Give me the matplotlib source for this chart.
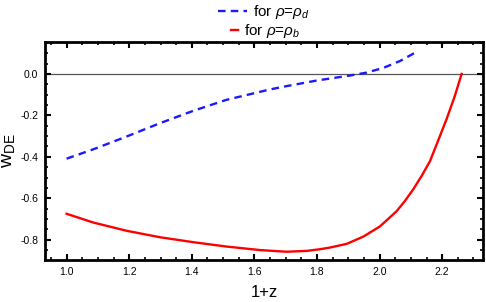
import numpy as np
import matplotlib
matplotlib.use("Agg")
import matplotlib.pyplot as plt
from matplotlib.ticker import MultipleLocator, FormatStrFormatter

plt.rcParams['font.family'] = ['Liberation Sans', 'DejaVu Sans']
plt.rcParams['mathtext.fontset'] = 'custom'
plt.rcParams['mathtext.rm'] = 'Liberation Sans'
plt.rcParams['mathtext.it'] = 'Liberation Sans:italic'
plt.rcParams['axes.unicode_minus'] = False

# blue dashed: rho = rho_d
x_d = [1.0, 1.085, 1.192, 1.298, 1.405, 1.511, 1.586, 1.647, 1.692, 1.799, 1.905, 1.958, 2.012, 2.065, 2.113]
w_d = [-0.409, -0.364, -0.302, -0.238, -0.178, -0.125, -0.098, -0.076, -0.062, -0.032, -0.008, 0.006, 0.029, 0.062, 0.102]

# red solid: rho = rho_b
x_b = [1.0, 1.085, 1.192, 1.298, 1.405, 1.511, 1.618, 1.703, 1.767, 1.809, 1.841, 1.895, 1.948, 2.001, 2.054, 2.080, 2.107, 2.134, 2.161, 2.187, 2.214, 2.240, 2.262]
w_b = [-0.675, -0.717, -0.757, -0.788, -0.812, -0.833, -0.850, -0.858, -0.854, -0.846, -0.838, -0.820, -0.785, -0.736, -0.663, -0.615, -0.558, -0.493, -0.421, -0.322, -0.218, -0.108, 0.0]

fig = plt.figure(figsize=(4.86, 3.02), dpi=100)
ax = fig.add_axes([0.0926, 0.139, 0.901, 0.722])

ax.axhline(0.0, color='#555555', lw=0.9, zorder=1)
ld, = ax.plot(x_d, w_d, color='#1a1aff', lw=1.7, ls=(0, (3.2, 2.2)), label=r'for $\mathit{ρ}$=$\mathit{ρ}_d$', zorder=3)
lb, = ax.plot(x_b, w_b, color='#ff0000', lw=1.7, label=r'for $\mathit{ρ}$=$\mathit{ρ}_b$', zorder=3)

ax.set_xlim(0.931, 2.33)
ax.set_ylim(-0.898, 0.154)

ax.xaxis.set_major_locator(MultipleLocator(0.2))
ax.xaxis.set_minor_locator(MultipleLocator(0.05))
ax.yaxis.set_major_locator(MultipleLocator(0.2))
ax.yaxis.set_minor_locator(MultipleLocator(0.05))
ax.xaxis.set_major_formatter(FormatStrFormatter('%.1f'))
ax.yaxis.set_major_formatter(FormatStrFormatter('%.1f'))
ax.tick_params(which='both', direction='in', top=True, right=True, labelsize=7.5, color='black', pad=5)
ax.tick_params(which='major', length=4, width=1.5)
ax.tick_params(which='minor', length=2, width=1.2)
for s in ax.spines.values():
    s.set_linewidth(2.0)

ax.set_xlabel('1+z', fontsize=12, labelpad=6)
ax.set_ylabel(r'$\mathrm{w}_{\mathrm{DE}}$', fontsize=14, labelpad=2)

leg1 = fig.legend(handles=[ld], loc='center', bbox_to_anchor=(0.543, 0.960), frameon=False,
                  fontsize=11, handlelength=1.9, handletextpad=0.4, borderpad=0.1)
leg2 = fig.legend(handles=[lb], loc='center', bbox_to_anchor=(0.547, 0.897), frameon=False,
                  fontsize=11, handlelength=0.45, handletextpad=0.4, borderpad=0.1)

fig.savefig('out.png', dpi=100)
